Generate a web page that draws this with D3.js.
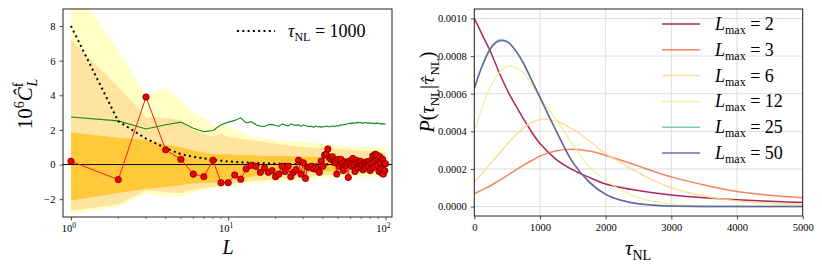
<!DOCTYPE html>
<html>
<head>
<meta charset="utf-8">
<script src="https://cdn.jsdelivr.net/npm/d3@7"></script>
<style>
  body { margin: 0; background: #fff; }
  text { font-family: "Liberation Serif", "DejaVu Serif", serif; fill: #000; }
</style>
</head>
<body>
<script>
// ---------- left panel data ----------
const Ls = d3.range(1, 101)

// measured cross-spectrum, 10^6 C_L
const clHat = [
  0.19, -0.87, 3.9, 0.85, 0.3, -0.55, -0.7, 0.25, -1.05, -1.05,
  -0.6, -0.85, -0.25, -0.05, -0.1, -0.45, -0.2, -0.45, -0.35, -0.7,
  -0.55, -0.1, -0.4, -0.1, -0.7, -0.45, -0.3, 0.25, -0.55, 0.1,
  -0.8, -0.15, -0.15, -0.1, -0.25, -0.15, -0.3, -0.45, 0.2, -0.1,
  0.55, 0.6, 0.9, 0.4, 0.3, 0.45, 0.2, 0.1, -0.55, 0.3,
  -0.1, 0.3, 0.05, -0.35, 0.15, -0.05, 0.1, -0.75, 0.2, 0.05,
  -0.1, 0.35, 0.0, -0.4, 0.25, 0.1, -0.2, 0.05, 0.2, -0.15,
  0.0, -0.3, 0.1, 0.0, -0.2, 0.15, 0.05, -0.1, 0.2, -0.35,
  0.05, -0.2, 0.5, 0.1, -0.15, 0.6, 0.25, 0.55, -0.05, 0.3,
  -0.4, 0.45, 0.1, -0.25, -0.5, 0.3, -0.55, 0.05, -0.35, 0.05
]

// green curve
const greenVals = [
  2.75, 2.52, 2.05, 2.3, 2.45, 2.1, 1.9, 1.97, 2.3, 2.45,
  2.55, 2.7, 2.4, 2.48, 2.3, 2.22, 2.2, 2.3, 2.32, 2.25,
  2.2, 2.35, 2.28, 2.22, 2.35, 2.3, 2.25, 2.3, 2.2, 2.28,
  2.25, 2.2, 2.22, 2.2, 2.15, 2.22, 2.18, 2.2, 2.15, 2.2,
  2.18, 2.22, 2.2, 2.17, 2.22, 2.2, 2.24, 2.2, 2.25, 2.22,
  2.26, 2.3, 2.27, 2.3, 2.33, 2.3, 2.35, 2.38, 2.35, 2.4,
  2.37, 2.42, 2.38, 2.4, 2.43, 2.4, 2.45, 2.42, 2.4, 2.44,
  2.4, 2.38, 2.42, 2.4, 2.44, 2.41, 2.38, 2.42, 2.4, 2.37,
  2.41, 2.39, 2.36, 2.4, 2.38, 2.35, 2.39, 2.37, 2.4, 2.36,
  2.38, 2.35, 2.37, 2.34, 2.36, 2.33, 2.35, 2.32, 2.34, 2.35
]

// error bands
const bandL   = [1, 2, 3, 4, 5, 6, 7, 8, 9, 10, 12, 14, 17, 20, 25, 30, 40, 50, 60, 70, 80, 100]
const outerHi = [10.5, 6.6, 4.0, 4.4, 3.7, 3.0, 2.7, 2.2, 2.3, 2.2, 1.9, 1.6, 1.5, 1.4, 1.35, 1.3, 1.2, 1.1, 1.05, 1.0, 1.0, 1.0]
const midHi   = [7.2, 4.5, 2.75, 2.7, 2.55, 2.0, 1.8, 1.6, 1.8, 1.6, 1.5, 1.4, 1.3, 1.2, 1.1, 1.0, 0.95, 0.9, 0.85, 0.8, 0.78, 0.73]
const innerHi = [1.85, 1.55, 1.42, 1.15, 1.0, 0.8, 0.7, 0.6, 0.6, 0.6, 0.55, 0.55, 0.5, 0.5, 0.5, 0.45, 0.45, 0.4, 0.4, 0.38, 0.36, 0.35]
const innerLo = [-2.08, -1.65, -1.4, -1.3, -1.2, -1.1, -1.05, -1.05, -1.0, -0.95, -0.85, -0.7, -0.6, -0.55, -0.5, -0.45, -0.4, -0.38, -0.35, -0.35, -0.33, -0.33]
const midLo   = [-2.65, -2.3, -1.5, -1.6, -1.65, -1.45, -1.35, -1.3, -1.25, -1.15, -1.05, -0.95, -0.9, -0.85, -0.8, -0.75, -0.62, -0.6, -0.56, -0.55, -0.52, -0.5]
const outerLo = [-2.85, -2.45, -1.67, -1.85, -1.85, -1.6, -1.5, -1.4, -1.35, -1.25, -1.15, -1.1, -1.05, -1.0, -0.95, -0.9, -0.78, -0.75, -0.72, -0.72, -0.7, -0.7]

// tau_NL = 1000 model
const dotL = [1, 2, 3, 4, 5, 6, 7, 8, 9, 10, 12, 14, 17, 20, 25, 30, 40, 50, 70, 100]
const dotV = [8.0, 2.5, 1.5, 0.95, 0.6, 0.45, 0.35, 0.28, 0.22, 0.18, 0.13, 0.1, 0.07, 0.05, 0.035, 0.025, 0.015, 0.01, 0.005, 0.003]

const yTicksL = [-2, 0, 2, 4, 6, 8]

// ---------- right panel data (posterior, units of 1e-3) ----------
const tauGrid = [0, 125, 250, 375, 500, 625, 750, 875, 1000, 1250, 1500, 1750, 2000, 2250, 2500, 2750, 3000, 3500, 4000, 4500, 5000]
const pL2  = [1.0, 0.91, 0.82, 0.715, 0.62, 0.54, 0.465, 0.395, 0.335, 0.25, 0.195, 0.155, 0.12, 0.1, 0.085, 0.072, 0.062, 0.047, 0.036, 0.028, 0.022]
const pL3  = [0.068, 0.09, 0.112, 0.138, 0.165, 0.193, 0.22, 0.245, 0.268, 0.297, 0.305, 0.295, 0.272, 0.245, 0.215, 0.185, 0.158, 0.115, 0.08, 0.06, 0.047]
const pL6  = [0.13, 0.18, 0.23, 0.28, 0.33, 0.378, 0.418, 0.448, 0.463, 0.455, 0.41, 0.35, 0.28, 0.23, 0.18, 0.135, 0.1, 0.056, 0.03, 0.018, 0.012]
const pL12 = [0.40, 0.53, 0.64, 0.71, 0.745, 0.74, 0.71, 0.65, 0.58, 0.46, 0.33, 0.21, 0.14, 0.085, 0.048, 0.026, 0.014, 0.004, 0.001, 0.0, 0.0]
const pL25 = [0.625, 0.755, 0.845, 0.885, 0.878, 0.832, 0.762, 0.672, 0.582, 0.4, 0.235, 0.13, 0.065, 0.032, 0.015, 0.007, 0.003, 0.0005, 0.0, 0.0, 0.0]
const pL50 = [0.63, 0.75, 0.84, 0.88, 0.875, 0.83, 0.76, 0.67, 0.58, 0.4, 0.235, 0.13, 0.065, 0.032, 0.015, 0.007, 0.003, 0.0005, 0.0, 0.0, 0.0]

const lmaxNames  = ['2', '3', '6', '12', '25', '50']
const lmaxSeries = [pL2, pL3, pL6, pL12, pL25, pL50]
const lmaxColors = ['#9e0142', '#f46d43', '#fed98a', '#e6f598', '#66c2a5', '#5e4fa2']

const xTicksR = [0, 1000, 2000, 3000, 4000, 5000]
const yTicksR = [0, 0.0002, 0.0004, 0.0006, 0.0008, 0.0010]

// ---------- svg ----------
const svg = d3.select('body').append('svg')
  .attr('width', 822)
  .attr('height', 268)
  .attr('xmlns', 'http://www.w3.org/2000/svg')

// =============== LEFT ===============
const xL = d3.scaleLog().domain([0.89, 110]).range([63, 392])
const yL = d3.scaleLinear().domain([-3, 9]).range([216.5, 8.7])

svg.append('clipPath').attr('id', 'clipL')
  .append('rect').attr('x', 63).attr('y', 9).attr('width', 329).attr('height', 208)

const gL = svg.append('g').attr('clip-path', 'url(#clipL)')

function bandArea(lo, hi) {
  return d3.area()
    .x((d, i) => xL(bandL[i]))
    .y0((d, i) => yL(lo[i]))
    .y1((d, i) => yL(hi[i]))(bandL)
}
gL.append('path').attr('d', bandArea(outerLo, outerHi)).attr('fill', '#ffffc6')
gL.append('path').attr('d', bandArea(midLo, midHi)).attr('fill', '#fee49f')
gL.append('path').attr('d', bandArea(innerLo, innerHi)).attr('fill', '#ffc93a')

gL.append('line')
  .attr('x1', 63).attr('x2', 392)
  .attr('y1', yL(0)).attr('y2', yL(0))
  .attr('stroke', '#000').attr('stroke-width', 1)

gL.append('path')
  .attr('d', d3.line().x((d, i) => xL(Ls[i])).y(d => yL(d))(greenVals))
  .attr('fill', 'none').attr('stroke', '#178a17').attr('stroke-width', 1.1)

gL.append('path')
  .attr('d', d3.line().x((d, i) => xL(dotL[i])).y(d => yL(d))(dotV))
  .attr('fill', 'none').attr('stroke', '#000').attr('stroke-width', 2)
  .attr('stroke-dasharray', '2,3.3')

gL.append('path')
  .attr('d', d3.line().x((d, i) => xL(Ls[i])).y(d => yL(d))(clHat))
  .attr('fill', 'none').attr('stroke', '#ff1a1a').attr('stroke-width', 1)

gL.selectAll('circle.pt').data(clHat).join('circle')
  .attr('class', 'pt')
  .attr('cx', (d, i) => xL(Ls[i]))
  .attr('cy', d => yL(d))
  .attr('r', 3.2)
  .attr('fill', '#ee0000')
  .attr('stroke', '#5a0000')
  .attr('stroke-width', 0.7)

// frame
svg.append('rect').attr('x', 63).attr('y', 9).attr('width', 329).attr('height', 208)
  .attr('fill', 'none').attr('stroke', '#222').attr('stroke-width', 1)

// left y axis
const yAxL = svg.append('g').attr('transform', 'translate(63,0)')
  .call(d3.axisLeft(yL).tickValues(yTicksL).tickSize(3.5).tickPadding(4).tickFormat(d3.format('d')))
yAxL.select('.domain').remove()
yAxL.selectAll('line').attr('stroke', '#222').attr('stroke-width', 0.8)
yAxL.selectAll('text').attr('font-size', 10.5).attr('font-family', '"Liberation Serif", serif').attr('fill', '#333')

// left x axis (log)
const xAxL = svg.append('g').attr('transform', 'translate(0,217)')
  .call(d3.axisBottom(xL).tickValues([1, 10, 100]).tickSize(3.5).tickPadding(4).tickFormat(''))
xAxL.select('.domain').remove()
xAxL.selectAll('line').attr('stroke', '#222').attr('stroke-width', 0.8)
const minor = []
for (const dec of [1, 10]) for (let k = 2; k <= 9; k++) minor.push(dec * k)
xAxL.selectAll('line.minor').data(minor).join('line')
  .attr('class', 'minor')
  .attr('x1', d => xL(d)).attr('x2', d => xL(d))
  .attr('y1', 0).attr('y2', 2)
  .attr('stroke', '#222').attr('stroke-width', 0.6)
const decLab = svg.append('g').selectAll('text').data([0, 1, 2]).join('text')
  .attr('x', d => xL(Math.pow(10, d)) - 2)
  .attr('y', 232)
  .attr('text-anchor', 'middle')
  .attr('font-size', 10.5)
  .attr('fill', '#333')
decLab.append('tspan').text('10')
decLab.append('tspan').attr('dy', -4).attr('font-size', 7.5).text(d => d)

// left axis labels
svg.append('text')
  .attr('x', 228).attr('y', 254)
  .attr('text-anchor', 'middle')
  .attr('font-size', 20).attr('font-style', 'italic')
  .text('L')

const ylab = svg.append('text')
  .attr('transform', 'translate(32,104) rotate(-90)')
  .attr('text-anchor', 'middle')
  .attr('font-size', 21)
ylab.append('tspan').text('10')
ylab.append('tspan').attr('dy', -8).attr('font-size', 14).text('6')
ylab.append('tspan').attr('dy', 8).attr('font-style', 'italic').text('Ĉ')
ylab.append('tspan').attr('dy', -9).attr('font-size', 14).text('f')
ylab.append('tspan').attr('dx', -4).attr('dy', 14).attr('font-size', 14).attr('font-style', 'italic').text('L')

// left legend
svg.append('line')
  .attr('x1', 237).attr('x2', 275).attr('y1', 31).attr('y2', 31)
  .attr('stroke', '#000').attr('stroke-width', 2).attr('stroke-dasharray', '2,3.3')
const lg = svg.append('text').attr('x', 288).attr('y', 37).attr('font-size', 18)
lg.append('tspan').attr('font-style', 'italic').text('τ')
lg.append('tspan').attr('dy', 4).attr('font-size', 12).text('NL')
lg.append('tspan').attr('dy', -4).text(' = 1000')

// =============== RIGHT ===============
const xR = d3.scaleLinear().domain([0, 5000]).range([474.3, 802.7])
const yR = d3.scaleLinear().domain([-0.00005, 0.00105]).range([216, 9])

// grid
svg.append('g').selectAll('line').data(xTicksR).join('line')
  .attr('x1', d => xR(d)).attr('x2', d => xR(d))
  .attr('y1', 9).attr('y2', 216)
  .attr('stroke', '#dcdcdc').attr('stroke-width', 1)
svg.append('g').selectAll('line').data(yTicksR).join('line')
  .attr('x1', 474.3).attr('x2', 802.7)
  .attr('y1', d => yR(d)).attr('y2', d => yR(d))
  .attr('stroke', '#dcdcdc').attr('stroke-width', 1)

svg.append('clipPath').attr('id', 'clipR')
  .append('rect').attr('x', 474.3).attr('y', 9).attr('width', 328.4).attr('height', 207)
const gR = svg.append('g').attr('clip-path', 'url(#clipR)')

const curve = d3.line()
  .x((d, i) => xR(tauGrid[i]))
  .y(d => yR(d * 1e-3))
  .curve(d3.curveCatmullRom.alpha(0.5))

lmaxSeries.forEach((s, k) => {
  gR.append('path')
    .attr('d', curve(s))
    .attr('fill', 'none')
    .attr('stroke', lmaxColors[k])
    .attr('stroke-opacity', 0.85)
    .attr('stroke-width', 1.5)
})

svg.append('rect').attr('x', 474.3).attr('y', 9).attr('width', 328.4).attr('height', 207)
  .attr('fill', 'none').attr('stroke', '#222').attr('stroke-width', 1)

const xAxR = svg.append('g').attr('transform', 'translate(0,216)')
  .call(d3.axisBottom(xR).tickValues(xTicksR).tickSize(3.5).tickPadding(4).tickFormat(d3.format('d')))
xAxR.select('.domain').remove()
xAxR.selectAll('line').attr('stroke', '#222').attr('stroke-width', 0.8)
xAxR.selectAll('text').attr('font-size', 10.5).attr('font-family', '"Liberation Serif", serif').attr('fill', '#333')

const yAxR = svg.append('g').attr('transform', 'translate(474.3,0)')
  .call(d3.axisLeft(yR).tickValues(yTicksR).tickSize(3.5).tickPadding(4).tickFormat(d3.format('.4f')))
yAxR.select('.domain').remove()
yAxR.selectAll('line').attr('stroke', '#222').attr('stroke-width', 0.8)
yAxR.selectAll('text').attr('font-size', 10.5).attr('font-family', '"Liberation Serif", serif').attr('fill', '#333')

// right labels
const xlabR = svg.append('text').attr('x', 638).attr('y', 255)
  .attr('text-anchor', 'middle').attr('font-size', 21)
xlabR.append('tspan').attr('font-style', 'italic').text('τ')
xlabR.append('tspan').attr('dy', 5).attr('font-size', 14).text('NL')

const ylabR = svg.append('text')
  .attr('transform', 'translate(434,92) rotate(-90)')
  .attr('text-anchor', 'middle').attr('font-size', 20)
ylabR.append('tspan').attr('font-style', 'italic').text('P')
ylabR.append('tspan').text('(')
ylabR.append('tspan').attr('font-style', 'italic').text('τ')
ylabR.append('tspan').attr('dy', 5).attr('font-size', 13).text('NL')
ylabR.append('tspan').attr('dy', -5).text('|')
ylabR.append('tspan').attr('font-style', 'italic').attr('font-family', '"DejaVu Serif", serif').attr('font-size', 17).text('τ̂')
ylabR.append('tspan').attr('dy', 5).attr('font-size', 13).text('NL')
ylabR.append('tspan').attr('dy', -5).text(')')

// right legend
const leg = svg.append('g').selectAll('g').data(lmaxNames).join('g')
  .attr('transform', (d, i) => `translate(0,${24 + i * 25.8})`)
leg.append('line')
  .attr('x1', 662).attr('x2', 700).attr('y1', 0).attr('y2', 0)
  .attr('stroke', (d, i) => lmaxColors[i])
  .attr('stroke-opacity', 0.85)
  .attr('stroke-width', 1.5)
const lt = leg.append('text').attr('x', 715).attr('y', 6).attr('font-size', 18)
lt.append('tspan').attr('font-style', 'italic').text('L')
lt.append('tspan').attr('dy', 4).attr('font-size', 12).text('max')
lt.append('tspan').attr('dy', -4).text(d => ' = ' + d)
</script>
</body>
</html>
